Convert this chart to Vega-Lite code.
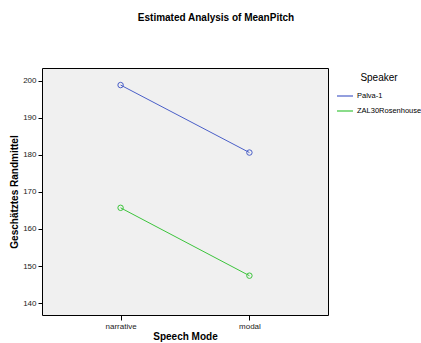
{
  "$schema": "https://vega.github.io/schema/vega-lite/v6.json",
  "autosize": "none",
  "width": 286,
  "height": 247,
  "padding": {"left": 42, "top": 68, "right": 93, "bottom": 28},
  "background": "white",
  "config": {
    "font": "Liberation Sans",
    "view": {"fill": "#f0f0f0", "stroke": "#000000", "strokeWidth": 1}
  },
  "title": {
    "text": "Estimated Analysis of MeanPitch",
    "font": "Liberation Sans",
    "fontSize": 10,
    "fontWeight": "bold",
    "color": "#000000",
    "anchor": "middle",
    "frame": "group",
    "dx": 31,
    "offset": 45
  },
  "data": {
    "values": [
      {"mode": "narrative", "speaker": "Palva-1", "mean": 198.8},
      {"mode": "modal", "speaker": "Palva-1", "mean": 180.6},
      {"mode": "narrative", "speaker": "ZAL30Rosenhouse", "mean": 165.7},
      {"mode": "modal", "speaker": "ZAL30Rosenhouse", "mean": 147.4}
    ]
  },
  "encoding": {
    "x": {
      "field": "mode",
      "type": "nominal",
      "sort": ["narrative", "modal"],
      "scale": {"type": "point", "padding": 0.61},
      "axis": {
        "title": "Speech Mode",
        "titleFont": "Liberation Sans",
        "titleFontSize": 10,
        "titleFontWeight": "bold",
        "titleColor": "#000000",
        "titlePadding": 1,
        "labelAngle": 0,
        "labelFontSize": 8,
        "labelColor": "#222222",
        "labelPadding": 2,
        "tickSize": 5,
        "tickColor": "#000000",
        "domain": false,
        "grid": false
      }
    },
    "y": {
      "field": "mean",
      "type": "quantitative",
      "scale": {"domain": [136.8, 203.4], "nice": false, "zero": false},
      "axis": {
        "title": "Geschätztes Randmittel",
        "titleFont": "Liberation Sans",
        "titleFontSize": 10,
        "titleFontWeight": "bold",
        "titleColor": "#000000",
        "titlePadding": 3,
        "values": [140, 150, 160, 170, 180, 190, 200],
        "labelFontSize": 8,
        "labelColor": "#222222",
        "labelPadding": 2,
        "tickSize": 4,
        "tickColor": "#000000",
        "domain": false,
        "grid": false
      }
    },
    "color": {
      "field": "speaker",
      "type": "nominal",
      "scale": {"domain": ["Palva-1", "ZAL30Rosenhouse"], "range": ["#4a5fc8", "#3cc43c"]},
      "legend": {
        "title": "Speaker",
        "orient": "none",
        "legendX": 294,
        "legendY": 5,
        "titleFont": "Liberation Sans",
        "titleFontSize": 10,
        "titleFontWeight": "normal",
        "titleColor": "#000000",
        "titleAnchor": "middle",
        "titlePadding": 4,
        "labelFontSize": 7.5,
        "labelColor": "#000000",
        "labelOffset": 3,
        "symbolType": "stroke",
        "symbolSize": 256,
        "symbolStrokeWidth": 1.2,
        "symbolOpacity": 1,
        "rowPadding": 2
      }
    }
  },
  "layer": [
    {"mark": {"type": "line", "strokeWidth": 1}},
    {"mark": {"type": "point", "shape": "circle", "filled": false, "size": 30, "strokeWidth": 1, "opacity": 1}}
  ]
}
